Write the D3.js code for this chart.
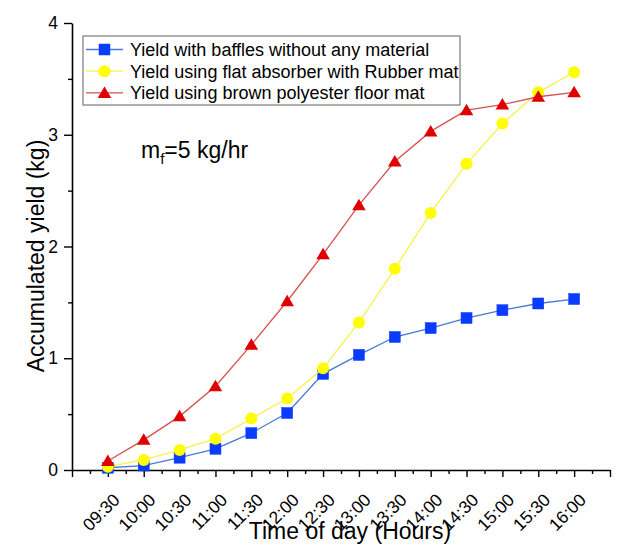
<!DOCTYPE html>
<html>
<head>
<meta charset="utf-8">
<script src="https://cdn.jsdelivr.net/npm/d3@7"></script>
<style>
  html, body { margin: 0; padding: 0; background: #fff; }
  svg { display: block; font-family: Arial, "Liberation Sans", sans-serif; }
</style>
</head>
<body>
<svg id="chart" width="626" height="545"></svg>
<script>
// Time of day (half-hour readings)
const times = ["09:30", "10:00", "10:30", "11:00", "11:30", "12:00", "12:30",
               "13:00", "13:30", "14:00", "14:30", "15:00", "15:30", "16:00"];

// Accumulated yield (kg), mass flow 5 kg/hr
const baffles   = [0.02, 0.04, 0.11, 0.19, 0.33, 0.51, 0.86, 1.03, 1.19, 1.27, 1.36, 1.43, 1.49, 1.53];
const rubber    = [0.03, 0.09, 0.18, 0.28, 0.46, 0.64, 0.91, 1.32, 1.80, 2.30, 2.74, 3.10, 3.38, 3.56];
const polyester = [0.08, 0.27, 0.48, 0.75, 1.12, 1.51, 1.93, 2.37, 2.76, 3.03, 3.22, 3.27, 3.34, 3.38];

const seriesNames = [
  "Yield with baffles without any material",
  "Yield using flat absorber with Rubber mat",
  "Yield using brown polyester floor mat"
];

const yTicks = [0, 1, 2, 3, 4];

const toMin = t => { const [h, m] = t.split(":").map(Number); return h * 60 + m; };

const svg = d3.select("#chart");

const x = d3.scaleLinear().domain([toMin("09:00"), toMin("16:30")]).range([72, 610]);
const y = d3.scaleLinear().domain([0, 4]).range([470, 23]);

// ---- axes ----
const majorX = d3.range(toMin("09:00"), toMin("16:30") + 1, 30);
const minorX = d3.range(toMin("09:15"), toMin("16:30"), 30);

const xAxisG = svg.append("g").attr("transform", `translate(0,${y(0)})`);
xAxisG.call(d3.axisBottom(x).tickValues(majorX).tickSize(7).tickSizeOuter(0).tickFormat(""));
xAxisG.append("g").call(d3.axisBottom(x).tickValues(minorX).tickSize(4).tickFormat(""))
  .select(".domain").remove();
xAxisG.selectAll("path.domain").attr("stroke", "#000").attr("stroke-width", 1.6);
xAxisG.selectAll(".tick line").attr("stroke", "#000").attr("stroke-width", 1.4);

// rotated time labels
svg.append("g").selectAll("text").data(times).join("text")
  .attr("transform", d => `translate(${x(toMin(d)) + 13},501) rotate(-45)`)
  .attr("text-anchor", "end")
  .attr("font-size", 17.5)
  .attr("fill", "#000")
  .text(d => d);

const yAxisG = svg.append("g").attr("transform", `translate(${x.range()[0]},0)`);
yAxisG.call(d3.axisLeft(y).tickValues(yTicks).tickSize(8).tickSizeOuter(0).tickPadding(6)
  .tickFormat(d3.format("d")));
yAxisG.append("g").call(d3.axisLeft(y).tickValues([0.5, 1.5, 2.5, 3.5]).tickSize(4).tickFormat(""))
  .select(".domain").remove();
yAxisG.selectAll("path.domain").attr("stroke", "#000").attr("stroke-width", 1.6);
yAxisG.selectAll(".tick line").attr("stroke", "#000").attr("stroke-width", 1.4);
yAxisG.selectAll(".tick text").attr("font-size", 17.5).attr("fill", "#000")
  .attr("font-family", "Arial, 'Liberation Sans', sans-serif");

// axis titles
svg.append("text")
  .attr("x", 350).attr("y", 539)
  .attr("text-anchor", "middle").attr("font-size", 23).attr("fill", "#000")
  .text("Time of day (Hours)");

svg.append("text")
  .attr("transform", "translate(44,256) rotate(-90)")
  .attr("text-anchor", "middle").attr("font-size", 23).attr("fill", "#000")
  .text("Accumulated yield (kg)");

// ---- series ----
const triPath = "M0,-6.5L6.8,5L-6.8,5Z";
const series = [
  { name: seriesNames[0], values: baffles,   line: "#4a78d6", fill: "#0a3cff", shape: "square" },
  { name: seriesNames[1], values: rubber,    line: "#f6f24a", fill: "#ffff00", shape: "circle" },
  { name: seriesNames[2], values: polyester, line: "#d9504f", fill: "#e00000", shape: "triangle" }
];

function drawMarker(g, shape, fill) {
  if (shape === "square") {
    g.append("rect").attr("x", -5.5).attr("y", -5.5).attr("width", 11).attr("height", 11)
      .attr("fill", fill).attr("stroke", fill).attr("stroke-width", 0.5);
  } else if (shape === "circle") {
    g.append("circle").attr("r", 6).attr("fill", fill);
  } else {
    g.append("path").attr("d", triPath).attr("fill", fill);
  }
}

const line = d3.line().x(d => x(toMin(d.t))).y(d => y(d.v));

series.forEach(s => {
  const pts = times.map((t, i) => ({ t, v: s.values[i] }));
  const g = svg.append("g");
  g.append("path").datum(pts).attr("d", line)
    .attr("fill", "none").attr("stroke", s.line).attr("stroke-width", 1.3);
  g.selectAll("g.pt").data(pts).join("g").attr("class", "pt")
    .attr("transform", d => `translate(${x(toMin(d.t))},${y(d.v)})`)
    .each(function () { drawMarker(d3.select(this), s.shape, s.fill); });
});

// ---- legend ----
const legend = svg.append("g");
legend.append("rect")
  .attr("x", 83).attr("y", 36).attr("width", 377).attr("height", 69)
  .attr("fill", "#fff").attr("stroke", "#7a7a7a").attr("stroke-width", 1.2);
series.forEach((s, i) => {
  const cy = 49.5 + i * 21.7;
  const row = legend.append("g");
  row.append("line").attr("x1", 86).attr("x2", 123).attr("y1", cy).attr("y2", cy)
    .attr("stroke", s.line).attr("stroke-width", 1.3);
  drawMarker(row.append("g").attr("transform", `translate(104.5,${cy})`), s.shape, s.fill);
  row.append("text").attr("x", 130).attr("y", cy + 6.3)
    .attr("font-size", 18).attr("fill", "#000").text(s.name);
});

// ---- flow-rate annotation ----
const note = svg.append("text").attr("x", 141).attr("y", 158).attr("font-size", 23).attr("fill", "#000");
note.append("tspan").text("m");
note.append("tspan").attr("font-size", 15).attr("dy", 6).text("f");
note.append("tspan").attr("dy", -6).text("=5 kg/hr");
</script>
</body>
</html>
